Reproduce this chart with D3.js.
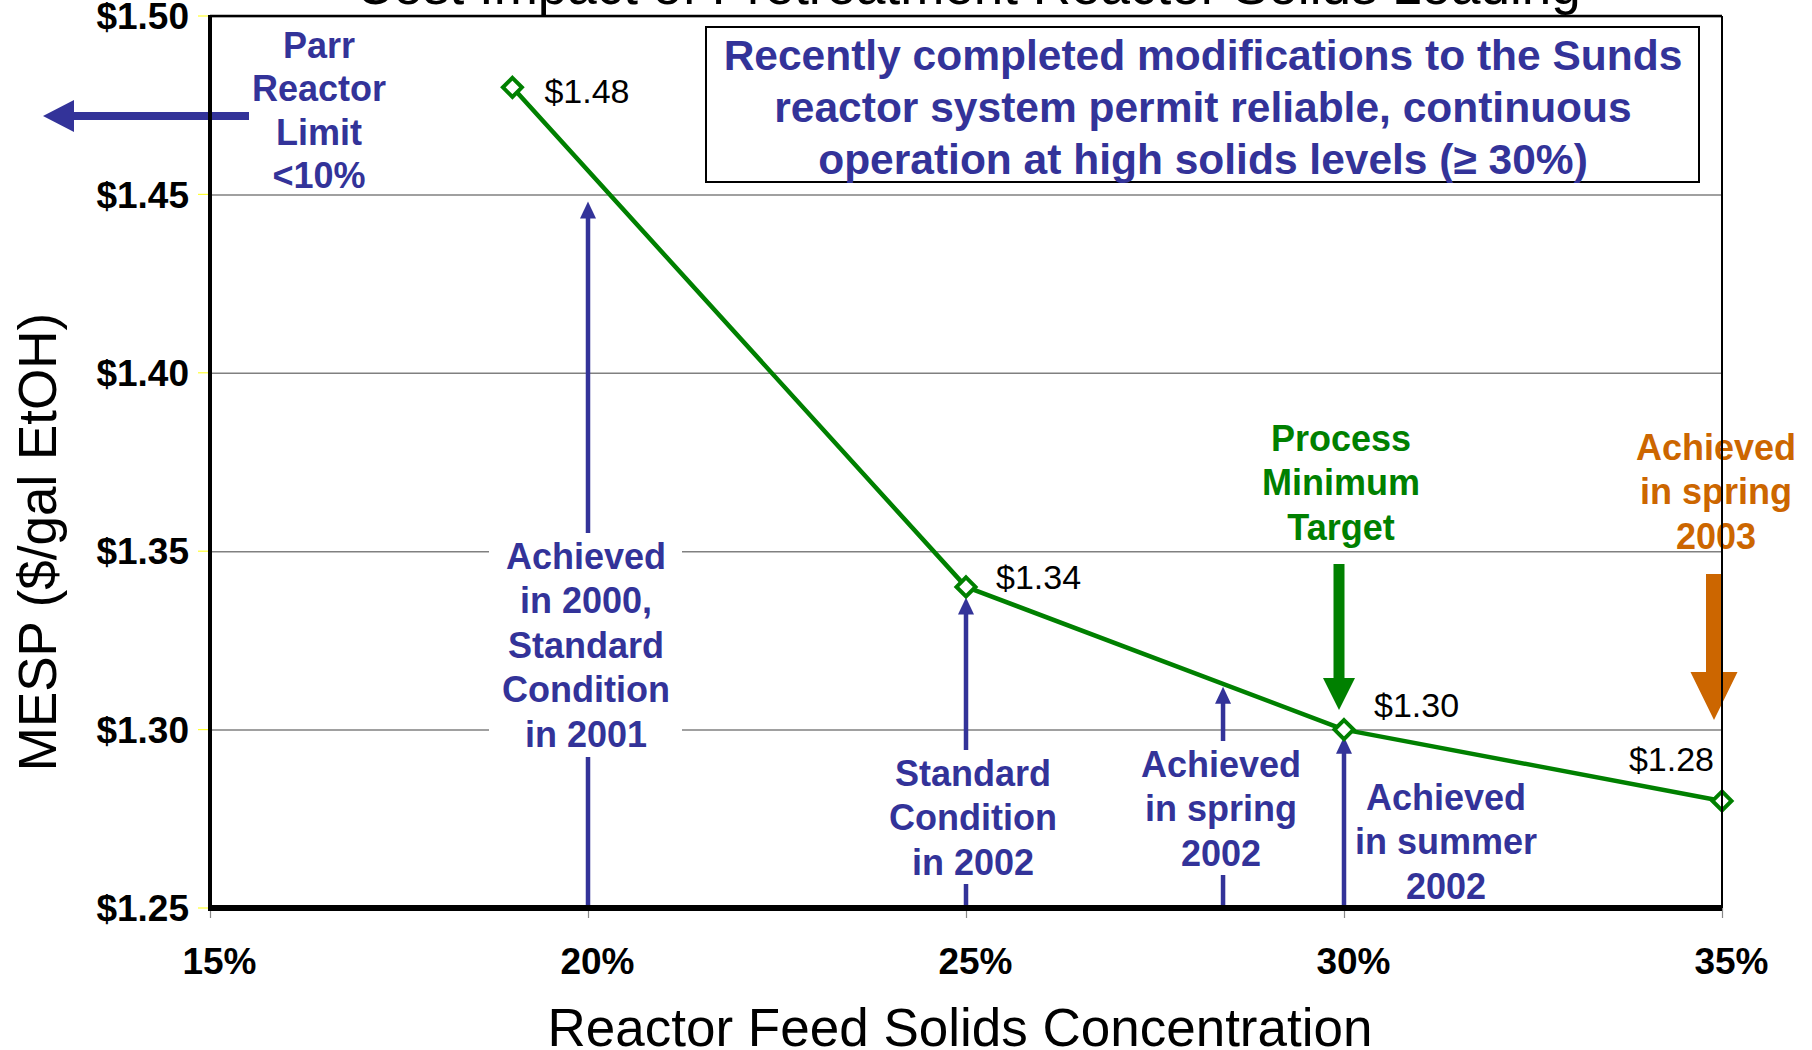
<!DOCTYPE html>
<html>
<head>
<meta charset="utf-8">
<script src="https://cdn.jsdelivr.net/npm/d3@7"></script>
<style>
  html, body { margin: 0; padding: 0; background: #fff; }
  svg { display: block; }
  text { font-family: "Liberation Sans", Arial, Helvetica, sans-serif; }
</style>
</head>
<body>
<svg id="chart" width="1812" height="1050"></svg>
<script>
// ---- data ----
const solids = [19, 25, 30, 35];                 // reactor feed solids, %
const mesp = [1.48, 1.34, 1.30, 1.28];           // $/gal EtOH
const valueLabels = ["$1.48", "$1.34", "$1.30", "$1.28"];

const xTicks = [15, 20, 25, 30, 35];
const xTickLabels = ["15%", "20%", "25%", "30%", "35%"];
const yTicks = [1.25, 1.30, 1.35, 1.40, 1.45, 1.50];
const yTickLabels = ["$1.25", "$1.30", "$1.35", "$1.40", "$1.45", "$1.50"];

// milestones reached, each pointing up at the cost curve
const milestoneSolids = [20, 25, 28.4, 30];
const milestoneTips = [1.448, 1.337, 1.312, 1.298];
const milestoneText = [
  ["Achieved", "in 2000,", "Standard", "Condition", "in 2001"],
  ["Standard", "Condition", "in 2002"],
  ["Achieved", "in spring", "2002"],
  ["Achieved", "in summer", "2002"]
];

const targetSolids = [30, 35];
const targetText = [
  ["Process", "Minimum", "Target"],
  ["Achieved", "in spring", "2003"]
];

const parrText = ["Parr", "Reactor", "Limit", "<10%"];
const noteText = [
  "Recently completed modifications to the Sunds",
  "reactor system permit reliable, continuous",
  "operation at high solids levels (\u2265 30%)"
];
const titleText = "Cost Impact of Pretreatment Reactor Solids Loading";
const xTitle = "Reactor Feed Solids Concentration";
const yTitle = "MESP ($/gal EtOH)";

// ---- styling ----
const BLUE = "#333399", GREEN = "#008000", ORANGE = "#CC6600";
const FONT = '"Liberation Sans", Arial, Helvetica, sans-serif';

const svg = d3.select("#chart");
const plot = { left: 210, right: 1722, top: 16, bottom: 908 };

const x = d3.scaleLinear().domain([15, 35]).range([plot.left, plot.right]);
const y = d3.scaleLinear().domain([1.25, 1.50]).range([plot.bottom, plot.top]);

// text helper: lines centred on (cx, cy0), spaced by lh
function textBlock(g, lines, cx, cy0, lh, size, color, weight, anchor) {
  const t = g.append("text")
    .attr("text-anchor", anchor || "middle")
    .attr("font-size", size)
    .attr("font-weight", weight || "bold")
    .attr("fill", color);
  lines.forEach((s, i) => {
    t.append("tspan")
      .attr("x", cx)
      .attr("y", cy0 + i * lh + size * 0.358)
      .text(s);
  });
  return t;
}

// ---- title (runs off the top edge) ----
svg.append("text")
  .attr("x", 968).attr("y", 4)
  .attr("text-anchor", "middle")
  .attr("font-size", 53)
  .attr("fill", "#000")
  .text(titleText);

// ---- gridlines ----
const yAxis = d3.axisLeft(y)
  .tickValues(yTicks)
  .tickSize(-(plot.right - plot.left))
  .tickFormat("");
const gGrid = svg.append("g")
  .attr("transform", `translate(${plot.left},0)`)
  .call(yAxis);
gGrid.select(".domain").remove();
gGrid.selectAll(".tick line")
  .attr("stroke", "#808080")
  .attr("stroke-width", 1.5);

// small yellow tick stubs on the left
svg.append("g").selectAll("line").data(yTicks).join("line")
  .attr("x1", plot.left - 12).attr("x2", plot.left)
  .attr("y1", d => y(d)).attr("y2", d => y(d))
  .attr("stroke", "#ffff33").attr("stroke-width", 1.2);

// y tick labels
svg.append("g").selectAll("text").data(yTicks).join("text")
  .attr("x", 189)
  .attr("y", d => y(d) + 37 * 0.358)
  .attr("text-anchor", "end")
  .attr("font-size", 37)
  .attr("font-weight", "bold")
  .attr("fill", "#000")
  .text((d, i) => yTickLabels[i]);

// x axis ticks and labels
const xAxis = d3.axisBottom(x)
  .tickValues(xTicks)
  .tickSize(10)
  .tickFormat((d, i) => xTickLabels[i]);
const gX = svg.append("g")
  .attr("transform", `translate(0,${plot.bottom})`)
  .call(xAxis);
gX.select(".domain").remove();
gX.selectAll(".tick line").attr("stroke", "#888").attr("stroke-width", 1.2);
gX.selectAll(".tick text")
  .attr("font-family", FONT)
  .attr("font-size", 37)
  .attr("font-weight", "bold")
  .attr("fill", "#000")
  .attr("dx", 9)
  .attr("dy", 0)
  .attr("y", 53 + 37 * 0.358);

// ---- axis titles ----
svg.append("text")
  .attr("x", 960).attr("y", 1046)
  .attr("text-anchor", "middle")
  .attr("font-size", 53)
  .attr("fill", "#000")
  .text(xTitle);

svg.append("text")
  .attr("transform", "translate(56,542) rotate(-90)")
  .attr("text-anchor", "middle")
  .attr("font-size", 53)
  .attr("fill", "#000")
  .text(yTitle);

// ---- milestone arrows (blue) ----
const gM = svg.append("g");
function upArrow(g, px, yTip, color) {
  g.append("line")
    .attr("x1", px).attr("x2", px)
    .attr("y1", plot.bottom).attr("y2", yTip + 12)
    .attr("stroke", color).attr("stroke-width", 4.5);
  g.append("path")
    .attr("d", `M${px},${yTip} L${px + 8},${yTip + 17} L${px - 8},${yTip + 17} Z`)
    .attr("fill", color);
}
milestoneSolids.forEach((s, i) => upArrow(gM, x(s), y(milestoneTips[i]), BLUE));

// knockout panels behind the milestone labels, then the labels
const milestoneLayout = [
  { cx: 586,  cy0: 556, box: [489, 682, 533, 757] },
  { cx: 973,  cy0: 773, box: [888, 1058, 750, 884] },
  { cx: 1221, cy0: 764, box: [1140, 1304, 741, 875] },
  { cx: 1446, cy0: 797, box: [1352, 1541, 773, 905] }
];
milestoneText.forEach((lines, i) => {
  const L = milestoneLayout[i];
  gM.append("rect")
    .attr("x", L.box[0]).attr("y", L.box[2])
    .attr("width", L.box[1] - L.box[0]).attr("height", L.box[3] - L.box[2])
    .attr("fill", "#fff");
  textBlock(gM, lines, L.cx, L.cy0, 44.5, 36, BLUE, "bold");
});

// ---- Parr reactor limit (points off the left of the scale) ----
const gP = svg.append("g");
textBlock(gP, parrText, 319, 45, 43.5, 36, BLUE, "bold");
gP.append("path")
  .attr("d", "M249,112 L74,112 L74,100 L43,116 L74,132 L74,120 L249,120 Z")
  .attr("fill", BLUE);

// ---- note box ----
const gN = svg.append("g");
gN.append("rect")
  .attr("x", 706).attr("y", 27)
  .attr("width", 993).attr("height", 155)
  .attr("fill", "#fff")
  .attr("stroke", "#000").attr("stroke-width", 2);
textBlock(gN, noteText, 1203, 55, 52, 42.5, BLUE, "bold");

// ---- cost curve ----
const pts = solids.map((s, i) => [x(s), y(mesp[i])]);
svg.append("path")
  .attr("d", d3.line()(pts))
  .attr("fill", "none")
  .attr("stroke", GREEN)
  .attr("stroke-width", 4.5)
  .attr("stroke-linejoin", "round");

const r = 9.5;
svg.append("g").selectAll("path").data(pts).join("path")
  .attr("d", d => `M${d[0]},${d[1] - r} L${d[0] + r},${d[1]} L${d[0]},${d[1] + r} L${d[0] - r},${d[1]} Z`)
  .attr("fill", "#fff")
  .attr("stroke", GREEN)
  .attr("stroke-width", 4);

// value labels
const labelOffset = [[32, 3, "start"], [30, -10, "start"], [30, -25, "start"], [-8, -42, "end"]];
svg.append("g").selectAll("text").data(pts).join("text")
  .attr("x", (d, i) => d[0] + labelOffset[i][0])
  .attr("y", (d, i) => d[1] + labelOffset[i][1] + 34 * 0.358)
  .attr("text-anchor", (d, i) => labelOffset[i][2])
  .attr("font-size", 34)
  .attr("fill", "#000")
  .text((d, i) => valueLabels[i]);

// ---- target arrows (green / orange) ----
const gT = svg.append("g");
textBlock(gT, targetText[0], 1341, 438, 44.5, 36, GREEN, "bold");
textBlock(gT, targetText[1], 1716, 447, 44.5, 36, ORANGE, "bold");

function downBlock(g, px, top, base, tip, shaftW, headW, color) {
  const s = shaftW / 2, h = headW / 2;
  g.append("path")
    .attr("d", `M${px - s},${top} L${px + s},${top} L${px + s},${base} L${px + h},${base} L${px},${tip} L${px - h},${base} L${px - s},${base} Z`)
    .attr("fill", color);
}
downBlock(gT, x(targetSolids[0]) - 5, 564, 678, 710, 11, 32, GREEN);
downBlock(gT, x(targetSolids[1]) - 8, 574, 672, 720, 16, 47, ORANGE);

// ---- plot frame ----
const gF = svg.append("g");
gF.append("line")
  .attr("x1", plot.left).attr("x2", plot.right)
  .attr("y1", plot.top).attr("y2", plot.top)
  .attr("stroke", "#000").attr("stroke-width", 2.5);
gF.append("line")
  .attr("x1", plot.right).attr("x2", plot.right)
  .attr("y1", plot.top).attr("y2", plot.bottom)
  .attr("stroke", "#000").attr("stroke-width", 2);
gF.append("line")
  .attr("x1", plot.left).attr("x2", plot.left)
  .attr("y1", plot.top - 1).attr("y2", plot.bottom + 3)
  .attr("stroke", "#000").attr("stroke-width", 4);
gF.append("line")
  .attr("x1", plot.left).attr("x2", plot.right)
  .attr("y1", plot.bottom).attr("y2", plot.bottom)
  .attr("stroke", "#000").attr("stroke-width", 6);
</script>
</body>
</html>
